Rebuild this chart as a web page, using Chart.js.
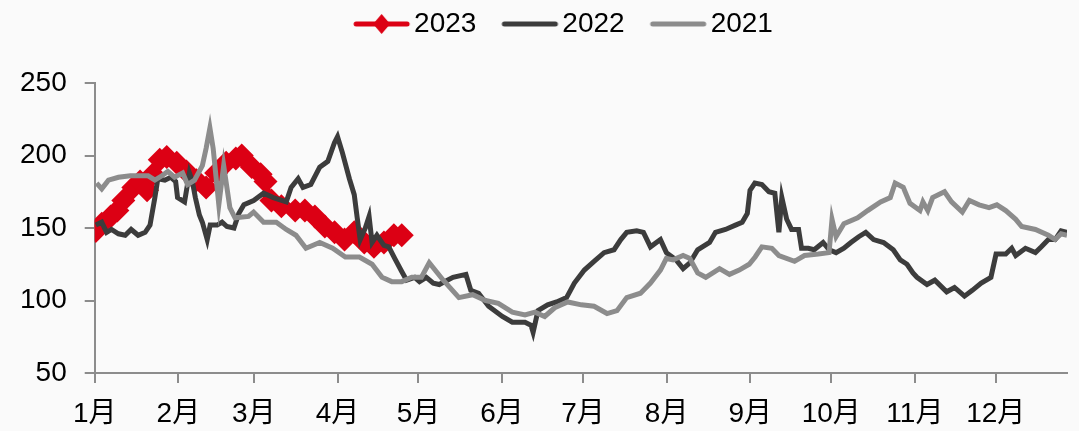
<!DOCTYPE html>
<html>
<head>
<meta charset="utf-8">
<script src="https://cdn.jsdelivr.net/npm/chart.js@4"></script>
<style>
  html, body { margin: 0; padding: 0; background: #fafafa; }
  #wrap { width: 1079px; height: 431px; }
</style>
</head>
<body>
<div id="wrap"><canvas id="chart"></canvas></div>
<script>
// x values are day of year (0 = 1 Jan)
const monthStarts = [0, 31, 59, 90, 120, 151, 181, 212, 243, 273, 304, 334];
const monthLabels = ["1月", "2月", "3月", "4月", "5月", "6月", "7月", "8月", "9月", "10月", "11月", "12月"];
const yTicks = [50, 100, 150, 200, 250];

const days2023 = [0.4, 2.6, 5.9, 8.4, 10.6, 14.3, 16.8, 19.4, 21.6, 24.1, 26.7, 30.4, 34, 37.7, 41.3, 45, 48.7, 52.3, 54.5, 58.2, 61.5, 63.3, 65.5, 69.2, 74.3, 77.9, 81.6, 85.3, 88.9, 92.6, 96.2, 99.9, 103.5, 107.2, 110.9, 113.8];
const vals2023 = [148, 153, 158, 162, 169, 178, 182, 176, 187, 197, 199, 195, 189, 183, 178, 188, 195, 198, 200, 192, 187, 182, 169, 165, 162, 162, 158, 151, 147, 142, 147, 140, 137, 140, 145, 145];

const days2022 = [0.4, 2.6, 4.4, 6.2, 8.8, 11.3, 13.5, 16.1, 18.7, 20.5, 22.3, 23.4, 26, 28.2, 30, 30.7, 33.3, 35.1, 36.2, 37.3, 38.8, 39.9, 41.7, 42.8, 45.4, 47.2, 49, 51.6, 53.4, 55.3, 58.9, 62.6, 66.2, 71, 72.8, 75.4, 77.2, 80.1, 83.4, 86.4, 88.9, 90, 91.8, 94.4, 96.2, 97.3, 98.4, 100.3, 101.7, 102.8, 104.6, 107.2, 109, 111.2, 113.8, 115.6, 118.6, 120.4, 122.9, 125.5, 127.7, 132.8, 137.6, 139.4, 142.3, 146, 151.1, 154.8, 159.5, 161.7, 162.5, 164.3, 167.9, 171.2, 174.9, 177.8, 181.5, 185.1, 188.8, 192.5, 195, 197.2, 200.9, 203.4, 206, 209.7, 211.9, 215.5, 218.1, 220.6, 223.5, 227.9, 230.1, 233.8, 237.5, 240, 241.9, 242.9, 244.7, 247.3, 249.9, 252.1, 253.6, 254.7, 256.5, 258.3, 260.9, 262, 264.5, 266.7, 270, 272.2, 274.8, 277.7, 280.3, 283.2, 285.8, 288.7, 292.4, 296, 298.6, 301.1, 303.3, 304.8, 308.5, 311.4, 315.8, 318.7, 322.4, 325.3, 328.6, 332.2, 334.1, 337.7, 339.9, 341.4, 345, 348.7, 350.9, 353.5, 356, 358.2, 360.4];
const vals2022 = [152, 154, 147, 149, 146, 145, 149, 145, 147, 152, 171, 184, 183, 185, 182, 171, 168, 188, 182, 171, 159, 154, 142, 152, 152, 154, 151, 150, 160, 166, 169, 174, 171, 168, 178, 184, 178, 180, 192, 196, 209, 213, 202, 184, 173, 157, 142, 150, 158, 140, 145, 138, 137, 129, 120, 114, 116, 113, 116, 112, 111, 116, 118, 107, 105, 96, 89, 85, 85, 83, 78, 93, 97, 99, 102, 112, 121, 127, 133, 135, 142, 147, 148, 147, 137, 142, 133, 128, 122, 126, 135, 140, 147, 149, 152, 154, 160, 176, 181, 180, 175, 174, 147, 171, 156, 149, 149, 136, 136, 135, 140, 135, 133, 136, 140, 144, 147, 142, 140, 135, 128, 125, 119, 116, 111, 114, 106, 109, 103, 107, 112, 116, 132, 132, 136, 131, 136, 133, 137, 142, 142, 148, 147];

const days2021 = [0.7, 2.6, 5.1, 8.8, 13.2, 19.8, 22.3, 24.9, 27.1, 29.6, 32.6, 34.4, 37, 39.9, 41.3, 42.7, 43.9, 46, 47.8, 50.1, 52, 57, 58.9, 62.6, 67.3, 71, 74.6, 78.3, 83.4, 88.2, 92.9, 98.1, 102.8, 106.5, 110.1, 113.8, 117.5, 121.1, 124, 126.6, 129.2, 135, 140.1, 144.9, 149.6, 154.8, 159.5, 163.2, 166.8, 170.5, 175.3, 180.4, 185.1, 189.9, 193.6, 197.2, 202.3, 206, 209.7, 211.9, 214.4, 218.1, 220.6, 223.5, 226.5, 231.6, 235.3, 238.9, 242.6, 244.8, 247.3, 251, 253.6, 259.4, 263.1, 268.2, 272.2, 273.3, 274.8, 277.7, 282.8, 286.5, 291.3, 294.9, 296.7, 299.7, 302.2, 305.9, 307, 308.8, 310.6, 315, 317.6, 321.6, 324.2, 327.8, 331.5, 334.4, 337.7, 341.4, 343.6, 348.7, 353.5, 356, 358.2, 360.4];
const vals2021 = [181, 177, 183, 185, 186, 186, 183, 186, 189, 185, 188, 180, 183, 193, 205, 219, 205, 166, 193, 164, 157, 158, 161, 154, 154, 149, 145, 136, 140, 136, 130, 130, 125, 116, 113, 113, 116, 116, 126, 120, 114, 102, 104, 100, 98, 92, 90, 92, 89, 95, 99, 97, 96, 91, 93, 102, 105, 112, 121, 129, 128, 131, 129, 119, 116, 122, 118, 121, 125, 130, 137, 136, 131, 127, 131, 132, 133, 156, 144, 153, 157, 162, 168, 171, 181, 178, 167, 162, 168, 162, 171, 175, 168, 161, 169, 166, 164, 166, 162, 156, 151, 149, 145, 142, 146, 145];

const red = "#dc0014";
const dark = "#3c3c3c";
const light = "#8c8c8c";
const axisGray = "#8c8c8c";
const fontFamily = "'Liberation Sans', 'Noto Sans CJK SC', sans-serif";

function toPoints(days, vals) {
  return days.map((d, i) => ({ x: d, y: vals[i] }));
}

// legend icon: a short line, optionally with a diamond in the middle
function makeIcon(color, diamond) {
  const c = document.createElement("canvas");
  c.width = 120;
  c.height = 24;
  const g = c.getContext("2d");
  g.strokeStyle = color;
  g.lineWidth = 5;
  g.lineCap = "round";
  g.beginPath();
  g.moveTo(47, 12);
  g.lineTo(98, 12);
  g.stroke();
  if (diamond) {
    g.fillStyle = color;
    g.beginPath();
    g.moveTo(72.5, 2);
    g.lineTo(81, 12);
    g.lineTo(72.5, 22);
    g.lineTo(64, 12);
    g.closePath();
    g.fill();
  }
  return c;
}
const legendIcons = [makeIcon(red, true), makeIcon(dark, false), makeIcon(light, false)];

// extra room under the legend, and nudge it a bit to the right
const legendGap = {
  id: "legendGap",
  beforeInit(chart) {
    const fit = chart.legend.fit;
    chart.legend.fit = function () {
      fit.bind(chart.legend)();
      this.height += 35;
    };
  },
  afterLayout(chart) {
    chart.legend.left += 15;
    chart.legend.right += 15;
  },
};

const ctx = document.getElementById("chart").getContext("2d");
new Chart(ctx, {
  type: "line",
  data: {
    datasets: [
      {
        label: "2023",
        data: toPoints(days2023, vals2023),
        borderColor: red,
        backgroundColor: red,
        borderWidth: 5,
        pointStyle: "rectRot",
        pointRadius: 12,
        pointBorderWidth: 0,
        pointBackgroundColor: red,
        order: 2,
      },
      {
        label: "2022",
        data: toPoints(days2022, vals2022),
        borderColor: dark,
        backgroundColor: dark,
        borderWidth: 5,
        pointRadius: 0,
        order: 1,
      },
      {
        label: "2021",
        data: toPoints(days2021, vals2021),
        borderColor: light,
        backgroundColor: light,
        borderWidth: 5,
        pointRadius: 0,
        order: 0,
      },
    ],
  },
  options: {
    responsive: true,
    maintainAspectRatio: false,
    animation: false,
    layout: { padding: { left: 2, right: 0, top: 0, bottom: 0 } },
    plugins: {
      tooltip: { enabled: false },
      legend: {
        position: "top",
        labels: {
          color: "#000",
          font: { family: fontFamily, size: 28 },
          usePointStyle: true,
          pointStyleWidth: 62,
          padding: 10,
          sort: (a, b) => a.datasetIndex - b.datasetIndex,
          generateLabels: (chart) =>
            Chart.defaults.plugins.legend.labels
              .generateLabels(chart)
              .map((item) => ({ ...item, pointStyle: legendIcons[item.datasetIndex] })),
        },
      },
    },
    scales: {
      x: {
        type: "linear",
        min: 0,
        max: 360.4,
        afterBuildTicks: (scale) => {
          scale.ticks = monthStarts.map((v) => ({ value: v }));
        },
        afterFit: (scale) => {
          scale.height = 58;
        },
        ticks: {
          autoSkip: false,
          maxRotation: 0,
          padding: 14,
          color: "#000",
          font: { family: fontFamily, size: 28 },
          callback: (value, index) => monthLabels[index],
        },
        grid: { drawOnChartArea: false, drawTicks: true, tickLength: 10, color: axisGray, lineWidth: 2 },
        border: { color: axisGray, width: 2 },
      },
      y: {
        min: 50,
        max: 250,
        afterBuildTicks: (scale) => {
          scale.ticks = yTicks.map((v) => ({ value: v }));
        },
        ticks: {
          padding: 18,
          color: "#000",
          font: { family: fontFamily, size: 28 },
        },
        grid: { drawOnChartArea: false, drawTicks: true, tickLength: 10, color: axisGray, lineWidth: 2 },
        border: { color: axisGray, width: 2 },
      },
    },
  },
  plugins: [legendGap],
});
</script>
</body>
</html>
